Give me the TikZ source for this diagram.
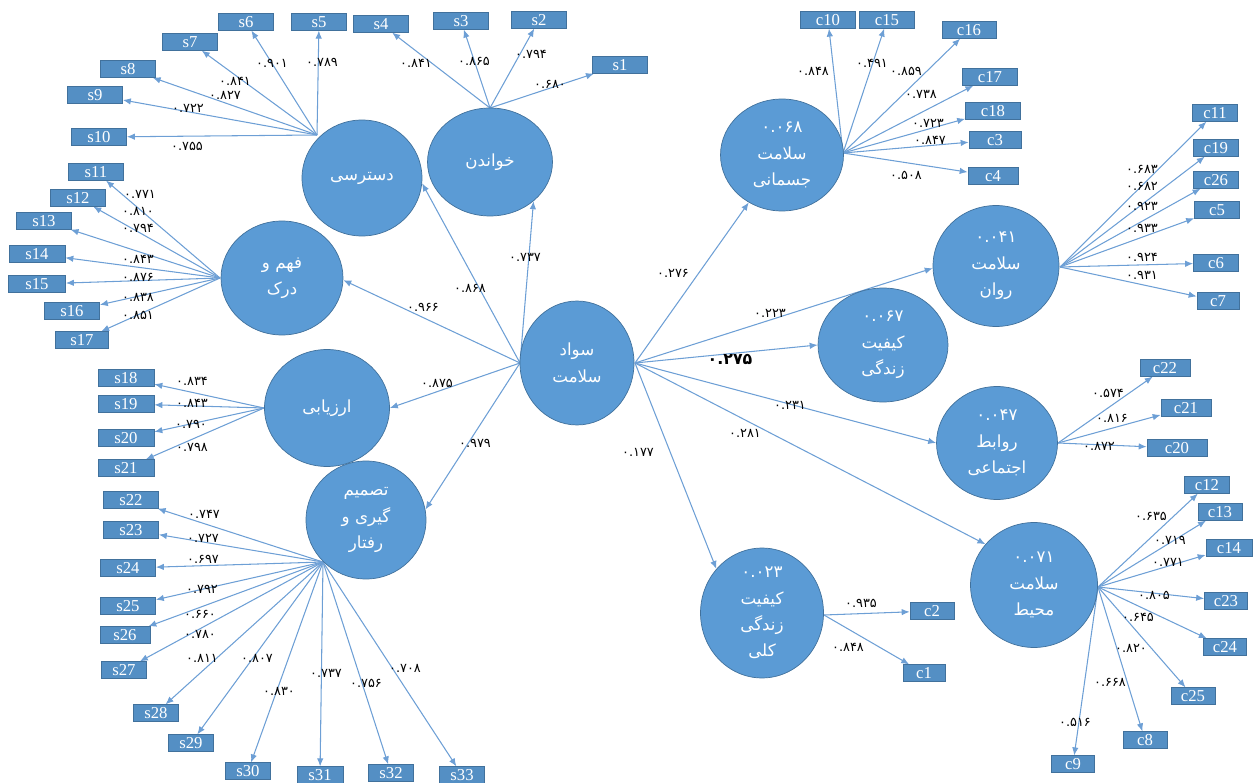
\documentclass[tikz,border=0pt]{standalone}
\usepackage{fontspec}
\setmainfont{Liberation Serif}
\newfontfamily\farsi[Script=Arabic]{DejaVu Sans}
\TeXXeTstate=1
\usetikzlibrary{arrows.meta,shapes.geometric,backgrounds}
\definecolor{hlblue}{HTML}{5B9BD5}
\definecolor{hledge}{HTML}{41719C}
\definecolor{hlline}{HTML}{6D9FD5}
\newcommand{\rl}[1]{\beginR#1\endR}
\tikzset{
  latnode/.style={ellipse,draw=hledge,fill=hlblue,text=white,inner sep=0pt,
    align=center,font=\farsi\fontsize{9.5}{15}\selectfont},
  indnode/.style={rectangle,draw=hledge,fill=hlblue!92!black,text=white,
    minimum height=0.33cm,inner sep=0pt,font=\fontsize{9.5}{10}\selectfont},
  ldedge/.style={-{Latex[length=1.6mm,width=1.3mm]},hlline,line width=0.6pt},
  valtxt/.style={font=\farsi\fontsize{7.3}{8}\selectfont,inner sep=0pt},
  valbig/.style={font=\farsi\bfseries\fontsize{9}{10}\selectfont,inner sep=0pt},
}
\begin{document}
\begin{tikzpicture}[x=0.02cm,y=-0.02cm]
  \useasboundingbox (0,0) rectangle (1253,783);
  % latent variables
  \node[latnode,minimum width=2.28cm,minimum height=2.48cm] (sawad) at (577,363) {\rl{سواد}\\\rl{سلامت}};
  \node[latnode,minimum width=2.5cm,minimum height=2.16cm] (khandan) at (490,162) {\rl{خواندن}};
  \node[latnode,minimum width=2.4cm,minimum height=2.32cm] (dastresi) at (362,178) {\rl{دسترسی}};
  \node[latnode,minimum width=2.44cm,minimum height=2.28cm] (fahm) at (282,278) {\rl{فهم و}\\\rl{درک}};
  \node[latnode,minimum width=2.5cm,minimum height=2.34cm] (arzyabi) at (327,408) {\rl{ارزیابی}};
  \node[latnode,minimum width=2.4cm,minimum height=2.36cm] (tasmim) at (366,520) {\rl{تصمیم}\\\rl{گیری و}\\\rl{رفتار}};
  \node[latnode,minimum width=2.46cm,minimum height=2.24cm] (jasmani) at (782,155) {۰.۰۶۸\\\rl{سلامت}\\\rl{جسمانی}};
  \node[latnode,minimum width=2.52cm,minimum height=2.42cm] (ravan) at (996,266) {۰.۰۴۱\\\rl{سلامت}\\\rl{روان}};
  \node[latnode,minimum width=2.6cm,minimum height=2.28cm] (kifiyat) at (883,345) {۰.۰۶۷\\\rl{کیفیت}\\\rl{زندگی}};
  \node[latnode,minimum width=2.42cm,minimum height=2.26cm] (ejtemai) at (997,443) {۰.۰۴۷\\\rl{روابط}\\\rl{اجتماعی}};
  \node[latnode,minimum width=2.54cm,minimum height=2.5cm] (mohit) at (1034,585) {۰.۰۷۱\\\rl{سلامت}\\\rl{محیط}};
  \node[latnode,minimum width=2.46cm,minimum height=2.4cm] (koli) at (762,613) {۰.۰۲۳\\\rl{کیفیت}\\\rl{زندگی}\\\rl{کلی}};
  % where the loadings leave each circle
  \coordinate (jdas) at (317,135);
  \coordinate (jkha) at (490,108);
  \coordinate (jfah) at (220,278);
  \coordinate (jarz) at (264,408);
  \coordinate (jtas) at (323,562);
  \coordinate (jjas) at (843,153);
  \coordinate (jrav) at (1060,267);
  \coordinate (jejt) at (1058,443);
  \coordinate (jmoh) at (1098,587);
  \coordinate (jkol) at (824,615);
  \coordinate (jsawL) at (520,363);
  \coordinate (jsawR) at (635,363);
  % indicators
  \foreach \nm/\src/\bx/\by/\bw/\val/\vx/\vy in {
    s5/jdas/319/22/1.1/۰.۷۸۹/322/62,
    s6/jdas/246/22/1.1/۰.۹۰۱/272/63,
    s7/jdas/190/42/1.1/۰.۸۴۱/235/81,
    s8/jdas/128/69/1.1/۰.۸۲۷/225/95,
    s9/jdas/95/95/1.1/۰.۷۲۲/188/108,
    s10/jdas/99/137/1.1/۰.۷۵۵/187/146,
    s4/jkha/381/24/1.1/۰.۸۴۱/416/63,
    s3/jkha/461/21/1.1/۰.۸۶۵/474/61,
    s2/jkha/539/20/1.1/۰.۷۹۴/531/54,
    s1/jkha/620/65/1.1/۰.۶۸۰/550/84,
    s11/jfah/96/172/1.1/۰.۷۷۱/140/194,
    s12/jfah/78/198/1.1/۰.۸۱۰/138/211,
    s13/jfah/44/221/1.1/۰.۷۹۴/138/228,
    s14/jfah/37/254/1.12/۰.۸۴۳/138/259,
    s15/jfah/37/284/1.14/۰.۸۷۶/138/277,
    s16/jfah/72/311/1.1/۰.۸۳۸/138/297,
    s17/jfah/82/340/1.06/۰.۸۵۱/138/315,
    s18/jarz/126/378/1.12/۰.۸۳۴/192/381,
    s19/jarz/126/404/1.12/۰.۸۴۳/192/403,
    s20/jarz/126/438/1.12/۰.۷۹۰/191/424,
    s21/jarz/126/468/1.12/۰.۷۹۸/192/447,
    s22/jtas/131/500/1.1/۰.۷۴۷/204/514,
    s23/jtas/131/530/1.1/۰.۷۲۷/203/538,
    s24/jtas/128/568/1.1/۰.۶۹۷/203/559,
    s25/jtas/128/606/1.1/۰.۷۹۲/202/589,
    s26/jtas/125/635/1.0/۰.۶۶۰/200/614,
    s27/jtas/124/670/0.9/۰.۷۸۰/200/634,
    s28/jtas/156/713/0.9/۰.۸۱۱/202/658,
    s29/jtas/191/743/0.9/۰.۸۰۷/257/658,
    s30/jtas/248/771/0.9/۰.۸۳۰/279/691,
    s31/jtas/320/775/0.92/۰.۷۳۷/326/673,
    s32/jtas/391/773/0.9/۰.۷۵۶/366/683,
    s33/jtas/462/775/0.9/۰.۷۰۸/405/668,
    c10/jjas/828/20/1.1/۰.۸۴۸/813/71,
    c15/jjas/887/20/1.1/۰.۴۹۱/872/63,
    c16/jjas/969/30/1.08/۰.۸۵۹/906/71,
    c17/jjas/990/77/1.1/۰.۷۳۸/921/94,
    c18/jjas/993/111/1.1/۰.۷۲۳/928/123,
    c3/jjas/995/140/1.04/۰.۸۴۷/930/140,
    c4/jjas/993/176/1.0/۰.۵۰۸/906/175,
    c11/jrav/1215/113/0.9/۰.۶۸۳/1142/169,
    c19/jrav/1216/148/0.9/۰.۶۸۲/1142/186,
    c26/jrav/1216/180/0.9/۰.۹۲۳/1142/206,
    c5/jrav/1217/210/0.9/۰.۹۳۳/1142/228,
    c6/jrav/1216/263/0.9/۰.۹۲۴/1142/257,
    c7/jrav/1218/301/0.84/۰.۹۳۱/1142/275,
    c22/jejt/1165/368/1.0/۰.۵۷۴/1108/393,
    c21/jejt/1186/408/1.0/۰.۸۱۶/1112/418,
    c20/jejt/1177/448/1.2/۰.۸۷۲/1099/446,
    c12/jmoh/1207/485/0.9/۰.۶۳۵/1151/516,
    c13/jmoh/1220/512/0.88/۰.۷۱۹/1170/540,
    c14/jmoh/1229/548/0.92/۰.۷۷۱/1168/562,
    c23/jmoh/1226/601/0.86/۰.۸۰۵/1154/595,
    c24/jmoh/1225/647/0.86/۰.۶۴۵/1138/617,
    c25/jmoh/1193/696/0.88/۰.۸۲۰/1131/648,
    c8/jmoh/1145/740/0.88/۰.۶۶۸/1110/682,
    c9/jmoh/1073/764/0.86/۰.۵۱۶/1075/722,
    c2/jkol/932/611/0.88/۰.۹۳۵/861/603,
    c1/jkol/924/673/0.84/۰.۸۴۸/848/647}{
    \node[indnode,minimum width=\bw cm] (\nm) at (\bx,\by) {\nm};
    \begin{scope}[on background layer]
      \draw[ldedge] (\src) -- (\nm);
    \end{scope}
    \node[valtxt] (v\nm) at (\vx,\vy) {\val};
  }
  % paths from the central circle
  \begin{scope}[on background layer]
    \draw[ldedge] (jsawL) -- (khandan.-42);
    \draw[ldedge] (jsawL) -- (dastresi.-5);
    \draw[ldedge] (jsawL) -- (fahm.-2);
    \draw[ldedge] (jsawL) -- (arzyabi.0);
    \draw[ldedge] (jsawL) -- (tasmim.10);
    \draw[ldedge] (jsawR) -- (jasmani.235);
    \draw[ldedge] (jsawR) -- (ravan.182);
    \draw[ldedge] (jsawR) -- (kifiyat.180);
    \draw[ldedge] (jsawR) -- (ejtemai.180);
    \draw[ldedge] (jsawR) -- (mohit.140);
    \draw[ldedge] (jsawR) -- (koli.136);
  \end{scope}
  \node[valtxt] (vkha) at (525,257) {۰.۷۳۷};
  \node[valtxt] (vdas) at (470,288) {۰.۸۶۸};
  \node[valtxt] (vfah) at (423,307) {۰.۹۶۶};
  \node[valtxt] (varz) at (437,383) {۰.۸۷۵};
  \node[valtxt] (vtas) at (475,443) {۰.۹۷۹};
  \node[valtxt] (vjas) at (673,273) {۰.۲۷۶};
  \node[valtxt] (vrav) at (770,313) {۰.۲۲۳};
  \node[valbig] (vkif) at (730,359) {۰.۲۷۵};
  \node[valtxt] (vejt) at (790,405) {۰.۲۳۱};
  \node[valtxt] (vmoh) at (745,433) {۰.۲۸۱};
  \node[valtxt] (vkol) at (638,452) {۰.۱۷۷};
\end{tikzpicture}
\end{document}
